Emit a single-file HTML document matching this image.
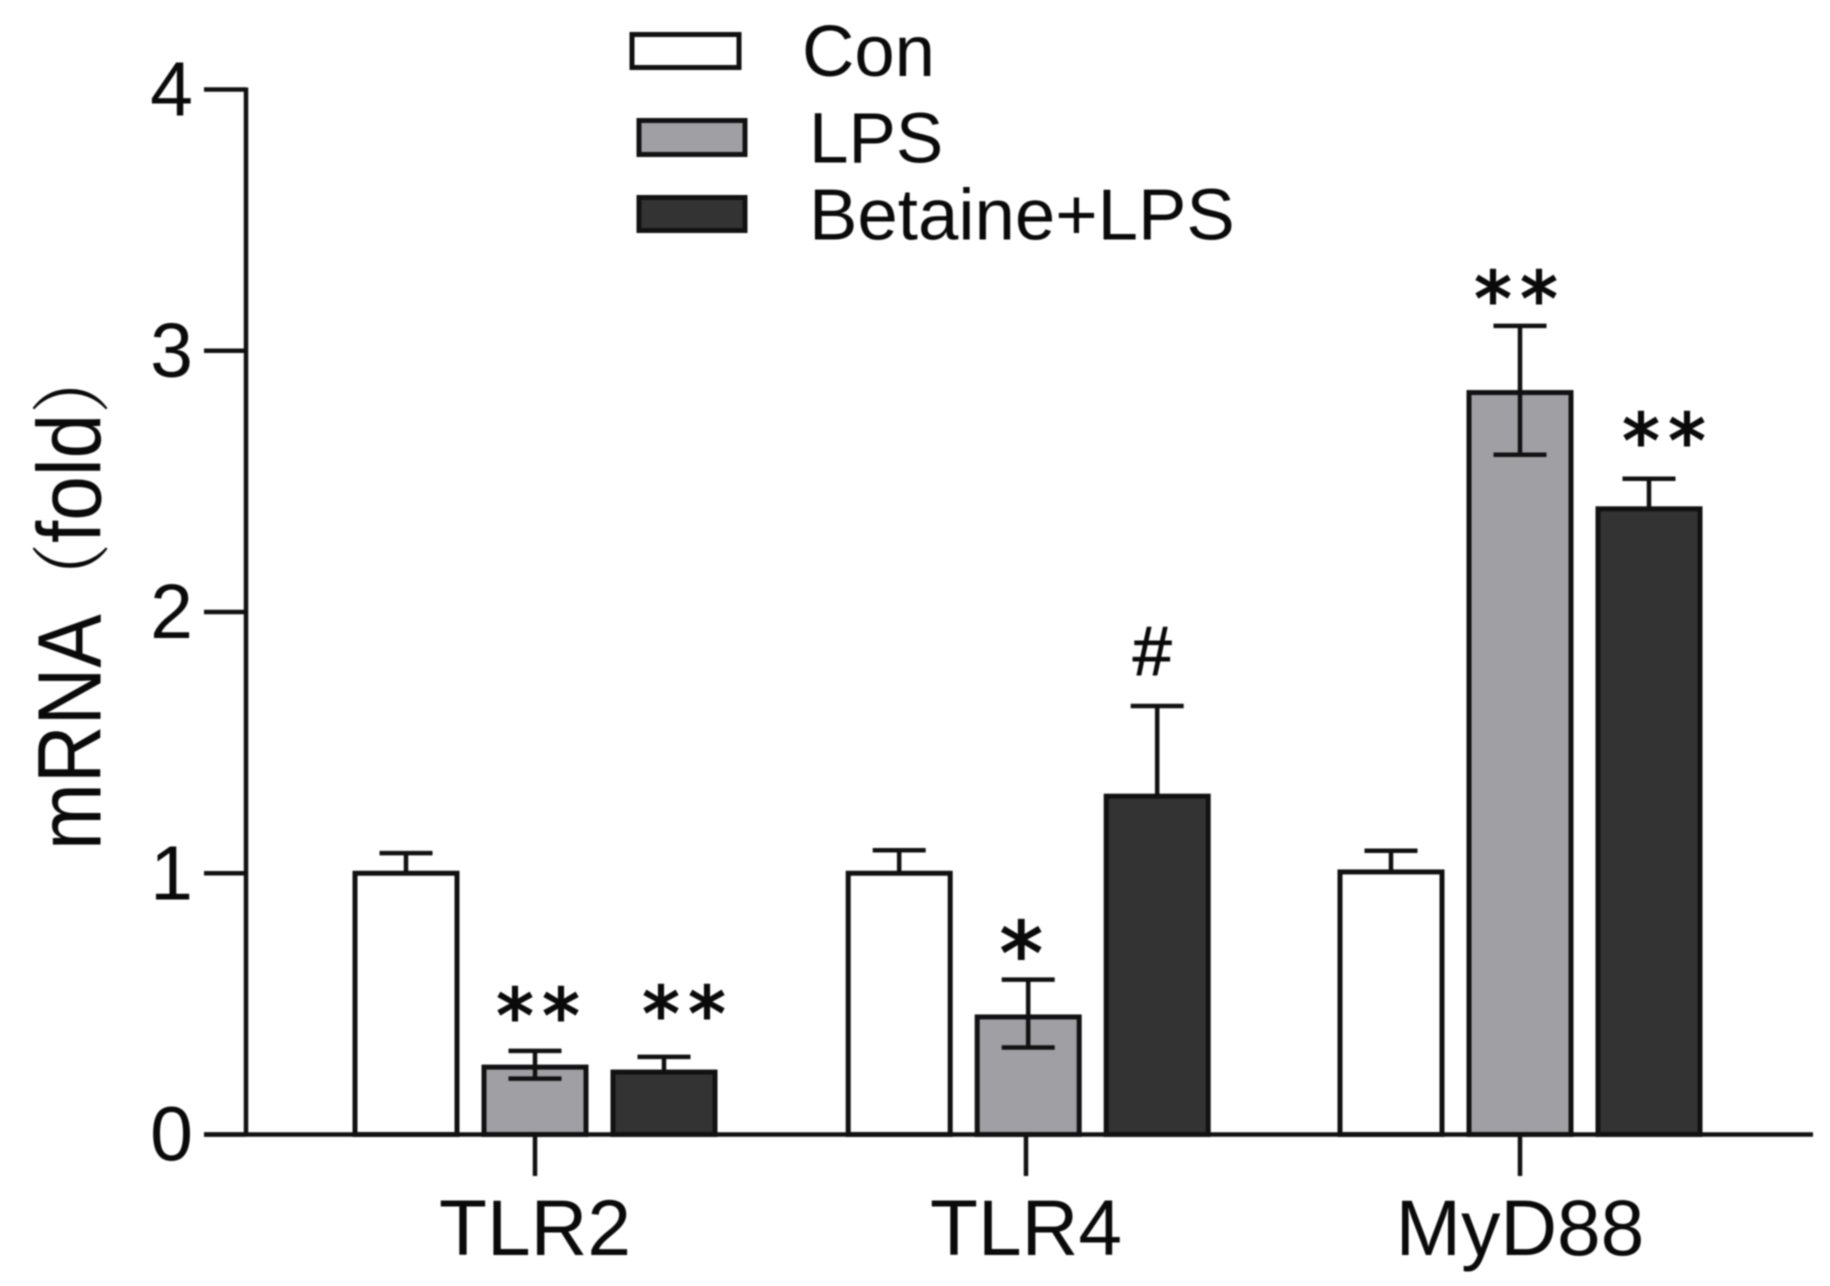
<!DOCTYPE html>
<html lang="en">
<head>
<meta charset="utf-8">
<title>mRNA fold chart</title>
<style>
  html, body { margin: 0; padding: 0; background: #fff; }
  body { width: 1830px; height: 1286px; overflow: hidden; }
  svg { display: block; filter: blur(0.7px); }
  text { font-family: "Liberation Sans", "Noto Sans CJK SC", sans-serif; fill: #0a0a0a; }
</style>
</head>
<body>
<svg id="chart" xmlns="http://www.w3.org/2000/svg" width="1830" height="1286" viewBox="0 0 1830 1286">
  <rect x="0" y="0" width="1830" height="1286" fill="#fff"/>
  <g id="bars"></g>
  <g id="axes"></g>
  <g id="marks"></g>
  <text transform="translate(100.7,850) rotate(-90) scale(0.89,1)" font-size="90">mRNA<tspan font-size="80" font-family="'Noto Serif CJK SC', serif">（</tspan>fold<tspan font-size="80" font-family="'Noto Serif CJK SC', serif">）</tspan></text>
  <g>
    <g>
      <rect x="632" y="34.5" width="107" height="33" fill="#fff" stroke="#111" stroke-width="5"/>
      <text x="802" y="76" font-size="72.5">Con</text>
    </g>
    <g>
      <rect x="639" y="120.5" width="106" height="34" fill="#a09fa4" stroke="#111" stroke-width="5"/>
      <text x="809" y="162.5" font-size="71">LPS</text>
    </g>
    <g>
      <rect x="639" y="197.5" width="106" height="33" fill="#333333" stroke="#111" stroke-width="5"/>
      <text x="809" y="239.5" font-size="72.6">Betaine+LPS</text>
    </g>
  </g>
</svg>
<script>
const categories = ['TLR2', 'TLR4', 'MyD88'];
const seriesNames = ['con', 'lps', 'betaine-lps'];
const conValues = [1.0, 1.0, 1.005];
const lpsValues = [0.258, 0.45, 2.84];
const betaineValues = [0.239, 1.295, 2.395];
const conErrUp = [0.077, 0.088, 0.081];
const lpsErrUp = [0.062, 0.143, 0.255];
const betaineErrUp = [0.058, 0.345, 0.115];
const conErrDown = [0, 0, 0];
const lpsErrDown = [0.044, 0.117, 0.238];
const betaineErrDown = [0, 0, 0];
const conMarks = ['', '', ''];
const lpsMarks = ['**', '*', '**'];
const betaineMarks = ['**', '#', '**'];
const yTickLabels = [0, 1, 2, 3, 4];

const NS = 'http://www.w3.org/2000/svg';
const barsLayer = document.getElementById('bars');
const axesLayer = document.getElementById('axes');
const marksLayer = document.getElementById('marks');

function yScale(v) { return 1134.5 - v * 261.25; }
function groupX(i) { return 535 + i * 492.5 + (i === 1 ? 0.7 : 0); }
function tickX(i) { return 535 + i * 492.5 - (i === 1 ? 1.5 : 0); }
function barX(i, s) { return groupX(i) + (s - 1) * 129; }

function make(tag, parent) {
  const el = document.createElementNS(NS, tag);
  parent.appendChild(el);
  return el;
}
function drawLine(parent, x1, y1, x2, y2, w) {
  const l = make('line', parent);
  l.setAttribute('x1', x1);
  l.setAttribute('y1', y1);
  l.setAttribute('x2', x2);
  l.setAttribute('y2', y2);
  l.setAttribute('stroke', '#111');
  l.setAttribute('stroke-width', w);
  return l;
}

const allValues = [conValues, lpsValues, betaineValues];
const allUp = [conErrUp, lpsErrUp, betaineErrUp];
const allDown = [conErrDown, lpsErrDown, betaineErrDown];
const allMarks = [conMarks, lpsMarks, betaineMarks];
const fills = ['#ffffff', '#a09fa4', '#333333'];

/* Layout nudges for the hand-placed significance marks: [x shift, gap above whisker] */
function markPlacement(s, c) {
  const key = s + '-' + c;
  if (key === '1-0') return [3, 47];
  if (key === '2-0') return [20, 55];
  if (key === '1-1') return [-7, 40];
  if (key === '2-1') return [-5, 55];
  if (key === '1-2') return [-4, 39];
  if (key === '2-2') return [15, 50];
  return [0, 45];
}

categories.forEach(function (cat, c) {
  seriesNames.forEach(function (name, s) {
    const cx = barX(c, s);
    const v = allValues[s][c];
    const top = yScale(v);
    const errTop = yScale(v + allUp[s][c]);
    const errBottom = yScale(v - allDown[s][c]);

    const bar = make('rect', barsLayer);
    
    
    bar.setAttribute('x', cx - 51);
    bar.setAttribute('y', top);
    bar.setAttribute('width', 102);
    bar.setAttribute('height', yScale(0) - top);
    bar.setAttribute('fill', fills[s]);
    bar.setAttribute('stroke', '#111');
    bar.setAttribute('stroke-width', 5);

    const stem = drawLine(barsLayer, cx, errTop, cx, errBottom, 4.5);
    
    

    const capTop = drawLine(barsLayer, cx - 26.5, errTop, cx + 26.5, errTop, 4.5);
    
    

    if (allDown[s][c] > 0) {
      const capBottom = drawLine(barsLayer, cx - 26.5, errBottom, cx + 26.5, errBottom, 4.5);
      
      
    }

    const mark = allMarks[s][c];
    if (mark) {
      const place = markPlacement(s, c);
      const chars = mark.split('');
      chars.forEach(function (ch, j) {
        const t = make('text', marksLayer);
        
        
        const size = ch === '#' ? 70 : (chars.length === 1 ? 86 : 74);
        const centerY = errTop - place[1];
        const lift = ch === '#' ? 0.34 : 0.51;
        t.setAttribute('x', cx + place[0] + (j - (chars.length - 1) / 2) * 46);
        t.setAttribute('y', centerY + lift * size);
        t.setAttribute('text-anchor', 'middle');
        t.setAttribute('font-size', size);
        t.setAttribute('stroke', '#0a0a0a');
        t.setAttribute('stroke-width', ch === '#' ? 1 : 2);
        t.setAttribute('style', ch === '#' ? '' : 'font-family:"DejaVu Sans",sans-serif');
        t.textContent = ch;
      });
    }
  });

  const tick = drawLine(axesLayer, tickX(c), yScale(0), tickX(c), 1176, 4.5);
  
  

  const label = make('text', axesLayer);
  
  
  label.setAttribute('x', tickX(c));
  label.setAttribute('y', 1255);
  label.setAttribute('text-anchor', 'middle');
  label.setAttribute('font-size', 78.5);
  label.textContent = cat;
});

const xAxis = drawLine(axesLayer, 204, yScale(0), 1813, yScale(0), 4.5);



const yAxis = drawLine(axesLayer, 246, yScale(4) - 2, 246, yScale(0) + 2, 4.5);



yTickLabels.forEach(function (v) {
  const tick = drawLine(axesLayer, 204, yScale(v), 246, yScale(v), 4.5);
  
  

  const label = make('text', axesLayer);
  
  
  label.setAttribute('x', 193);
  label.setAttribute('y', yScale(v) + 26);
  label.setAttribute('text-anchor', 'end');
  label.setAttribute('font-size', 77);
  label.textContent = v;
});
</script>
</body>
</html>
